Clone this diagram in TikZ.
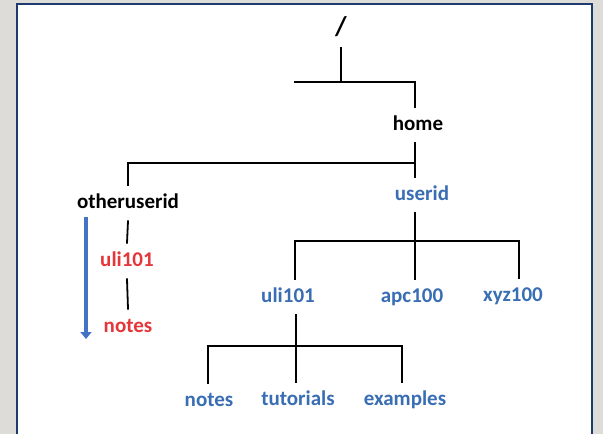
\documentclass[tikz,border=0pt]{standalone}
\usepackage{fontspec}
\setmainfont{Carlito}
\usepackage{tikz}
\usetikzlibrary{arrows.meta}

\definecolor{dirblue}{HTML}{3A6EB4}
\definecolor{dirred}{HTML}{E5363A}
\definecolor{arrowblue}{HTML}{4472C4}
\definecolor{frameblue}{HTML}{1F3A6E}
\definecolor{slidegray}{HTML}{DEDCD8}

\begin{document}
\begin{tikzpicture}[x=1pt,y=-1pt,
    dir/.style={font=\fontsize{21}{24}\selectfont\bfseries, text height=14pt, text depth=4pt, inner sep=9pt},
    branch/.style={line width=1.8pt, line cap=rect}]
                \useasboundingbox (0,0) rectangle (603,434);
                \fill [slidegray] (0,0) rectangle (603,434);
                \draw [fill=white, draw=frameblue, line width=1.5pt] (17,4) rectangle (592,445);
                % nodes
                \node [dir, font=\fontsize{27}{30}\selectfont\bfseries] (root) at (341,30) {/};
                \node [dir] (home) at (418,125) {home};
                \node [dir] (otheruserid) at (128,203) {otheruserid};
                \node [dir, dirblue] (userid) at (422,195) {userid};
                \node [dir, dirred] (olduli) at (127,261) {uli101};
                \node [dir, dirred] (oldnotes) at (128,327) {notes};
                \node [dir, dirblue] (uli) at (288,297) {uli101};
                \node [dir, dirblue] (apc) at (412,297) {apc100};
                \node [dir, dirblue] (xyz) at (513,296) {xyz100};
                \node [dir, dirblue] (notes) at (209,401) {notes};
                \node [dir, dirblue] (tutorials) at (298,400) {tutorials};
                \node [dir, dirblue] (examples) at (405,400) {examples};
                % bars
                \coordinate (b1l) at (295,82);
                \coordinate (b1m) at (341,82);
                \coordinate (b1r) at (415,82);
                \coordinate (b2l) at (128,163);
                \coordinate (b2r) at (415,163);
                \coordinate (b3l) at (295,241);
                \coordinate (b3m) at (415,241);
                \coordinate (b3r) at (519,241);
                \coordinate (b4l) at (208,346);
                \coordinate (b4m) at (296,346);
                \coordinate (b4r) at (402,346);
                \draw [branch] (root.south) -- (b1m);
                \draw [branch] (b1l) -- (b1r) -- (b1r |- home.north);
                \draw [branch] (b2r |- home.south) -- (b2r |- userid.north);
                \draw [branch] (b2r) -- (b2l) -- (b2l |- otheruserid.north);
                \draw [branch] (otheruserid.south) -- (olduli.north);
                \draw [branch] (olduli.south) -- (oldnotes.north);
                \draw [branch] (b3m |- userid.south) -- (b3m |- apc.north);
                \draw [branch] (b3l |- uli.north) -- (b3l) -- (b3r) -- (b3r |- xyz.north);
                \draw [branch] (b4m |- uli.south) -- (b4m |- tutorials.north);
                \draw [branch] (b4l |- notes.north) -- (b4l) -- (b4r) -- (b4r |- examples.north);
                % path arrow
                \coordinate (a1) at (86,217);
                \coordinate (a2) at (86,339);
                \draw [arrowblue, line width=4.5pt, -{Triangle[width=11pt,length=7pt]}] (a1) -- (a2);
            \end{tikzpicture}
\end{document}
